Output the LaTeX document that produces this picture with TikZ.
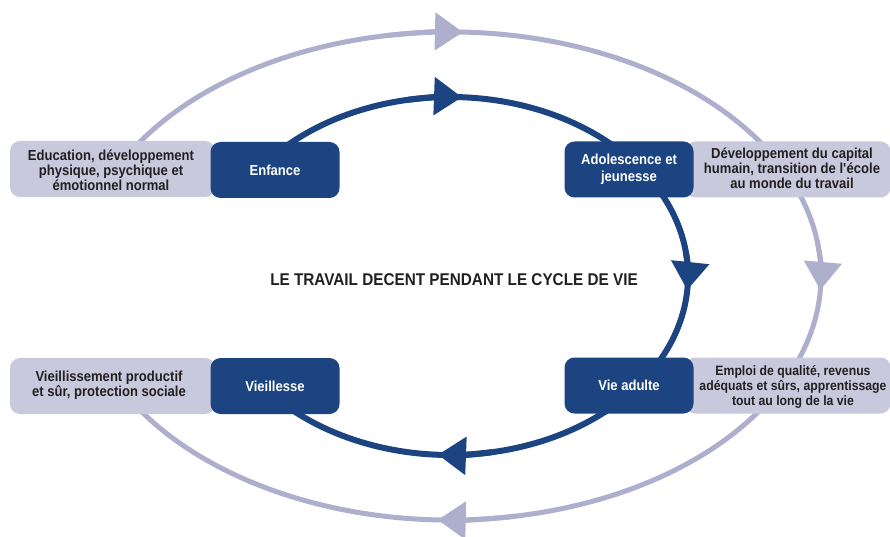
\documentclass[tikz,border=0pt]{standalone}
\usepackage{fontspec}
\setmainfont{Liberation Sans}[FakeStretch=0.9]
\usetikzlibrary{arrows.meta,calc}
\definecolor{ilob}{HTML}{1C4480}
\definecolor{ilog}{HTML}{C8C9DD}
\definecolor{ilol}{HTML}{AEAFCC}
\definecolor{ilot}{HTML}{231F20}
\tikzset{
  outerline/.style={draw=ilol,line width=5pt},
  innerline/.style={draw=ilob,line width=6pt},
  outertip/.style={-{Triangle[length=28pt,width=37pt]},draw=ilol,fill=ilol,line width=5pt},
  innertip/.style={-{Triangle[length=28pt,width=37pt]},draw=ilob,fill=ilob,line width=6pt},
  graybox/.style={fill=ilog,rounded corners=10pt,minimum width=205pt,minimum height=56pt,inner sep=0pt},
  bluebox/.style={fill=ilob,rounded corners=10pt,minimum width=129pt,minimum height=56pt,inner sep=0pt,
    text=white,font=\bfseries\fontsize{14.5}{16.5}\selectfont,align=center},
  graytext/.style={text=ilot,font=\bfseries\fontsize{14.5}{14.8}\selectfont,align=center,inner sep=0pt},
  graysmall/.style={graytext,font=\bfseries\fontsize{13.6}{14.8}\selectfont},
}
\begin{document}
\begin{tikzpicture}[x=1pt,y=1pt]
\useasboundingbox (0,0) rectangle (890,536);
\coordinate (C) at (450,260);
% outer cycle
\draw[outerline] ($(C)+(154:371 and 244)$) arc[start angle=154,end angle=26,x radius=371pt,y radius=244pt];
\draw[outerline] ($(C)+(26:371 and 244)$) arc[start angle=26,end angle=-27,x radius=371pt,y radius=244pt];
\draw[outerline] ($(C)+(-27:371 and 244)$) arc[start angle=-27,end angle=-153,x radius=371pt,y radius=244pt];
\draw[outertip] ($(C)+(100:371 and 244)$) arc[start angle=100,end angle=88,x radius=371pt,y radius=244pt];
\draw[outertip] ($(C)+(8:371 and 244)$) arc[start angle=8,end angle=-3.3,x radius=371pt,y radius=244pt];
\draw[outertip] ($(C)+(-80:371 and 244)$) arc[start angle=-80,end angle=-91.9,x radius=371pt,y radius=244pt];
% inner cycle
\draw[innerline] ($(C)+(143:238 and 179)$) arc[start angle=143,end angle=37,x radius=238pt,y radius=179pt];
\draw[innerline] ($(C)+(37:238 and 179)$) arc[start angle=37,end angle=-38,x radius=238pt,y radius=179pt];
\draw[innerline] ($(C)+(-38:238 and 179)$) arc[start angle=-38,end angle=-142,x radius=238pt,y radius=179pt];
\draw[innertip] ($(C)+(100:238 and 179)$) arc[start angle=100,end angle=87.1,x radius=238pt,y radius=179pt];
\draw[innertip] ($(C)+(8:238 and 179)$) arc[start angle=8,end angle=-4.5,x radius=238pt,y radius=179pt];
\draw[innertip] ($(C)+(-80:238 and 179)$) arc[start angle=-80,end angle=-92.9,x radius=238pt,y radius=179pt];
% gray boxes
\node[graybox] (g1) at (112.5,367) {};
\node[graybox] (g2) at (788,366.5) {};
\node[graybox] (g3) at (112.5,150) {};
\node[graybox] (g4) at (788,150.5) {};
% blue boxes
\node[bluebox] (b1) at (275,366) {Enfance};
\node[bluebox] (b2) at (629,366.5) {Adolescence et\\jeunesse};
\node[bluebox] (b3) at (275,150) {Vieillesse};
\node[bluebox] (b4) at (629,150.5) {Vie adulte};
% texts
\node[graytext] (t1) at (111,366) {Education, développement\\physique, psychique et\\émotionnel normal};
\node[graytext] (t2) at (792,368) {Développement du capital\\humain, transition de l\textquotesingle école\\au monde du travail};
\node[graytext] (t3) at (109,151) {Vieillissement productif\\et sûr, protection sociale};
\node[graysmall] (t4) at (793,149) {Emploi de qualité, revenus\\adéquats et sûrs, apprentissage\\tout au long de la vie};
\node[text=ilot,font=\bfseries\fontsize{17}{20}\selectfont,inner sep=0pt] (title) at (454,256) {LE TRAVAIL DECENT PENDANT LE CYCLE DE VIE};
\end{tikzpicture}
\end{document}
